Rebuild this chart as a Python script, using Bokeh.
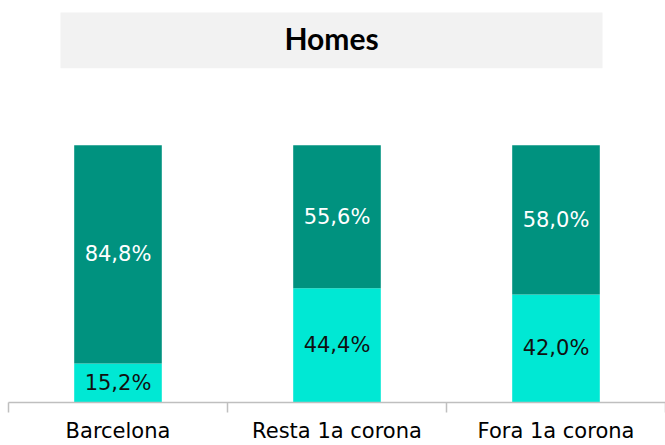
from bokeh.plotting import figure
from bokeh.models import Range1d, FixedTicker, ColumnDataSource, BoxAnnotation, Label
from bokeh.embed import file_html
from bokeh.resources import INLINE
from bokeh.core.properties import value

# ---- data ----
categories = ["Barcelona", "Resta 1a corona", "Fora 1a corona"]
share_light = [15.2, 44.4, 42.0]   # lower segment (light cyan)
share_dark = [84.8, 55.6, 58.0]    # upper segment (dark teal)
chart_title = "Homes"

# ---- derived ----
n = len(categories)
xs = [i + 0.5 for i in range(n)]
dark_bottom = share_light
dark_top = [a + b for a, b in zip(share_light, share_dark)]

def fmt(v):
    return f"{v:.1f}".replace(".", ",") + "%"

src = ColumnDataSource(dict(
    x=xs,
    light_top=share_light,
    dark_bottom=dark_bottom,
    dark_top=dark_top,
    light_mid=[v / 2 for v in share_light],
    dark_mid=[(b + t) / 2 for b, t in zip(dark_bottom, dark_top)],
    light_lab=[fmt(v) for v in share_light],
    dark_lab=[fmt(v) for v in share_dark],
))

DARK = "#00927F"
LIGHT = "#00E8D4"

p = figure(width=665, height=445, output_backend="svg", toolbar_location=None,
           x_range=Range1d(0, n), y_range=Range1d(0, 156.2),
           y_axis_type=None, min_border=0, min_border_left=8, min_border_bottom=42)
p.outline_line_color = None
p.grid.visible = False
p.background_fill_color = "white"
p.border_fill_color = "white"

p.vbar(x="x", bottom=0, top="light_top", width=0.4, source=src,
       fill_color=LIGHT, line_color=None)
p.vbar(x="x", bottom="dark_bottom", top="dark_top", width=0.4, source=src,
       fill_color=DARK, line_color=None)

p.text(x="x", y="light_mid", text="light_lab", source=src,
       text_align="center", text_baseline="middle",
       text_font=value("DejaVu Sans"), text_font_size="21px", text_color="#111111")
p.text(x="x", y="dark_mid", text="dark_lab", source=src,
       text_align="center", text_baseline="middle",
       text_font=value("DejaVu Sans"), text_font_size="21px", text_color="white")

# title box
p.add_layout(BoxAnnotation(left=52 / 219, right=594 / 219, bottom=129.84, top=151.55,
                           fill_color="#F2F2F2", fill_alpha=1.0, line_color=None,
                           level="underlay"))
p.add_layout(Label(x=1.475, y=141.8, text=chart_title, text_align="center",
                   text_baseline="alphabetic", text_font="Lato",
                   text_font_style="bold", text_font_size="30px", text_color="black"))

# axis
ax = p.xaxis[0]
ax.ticker = FixedTicker(ticks=xs, minor_ticks=list(range(n + 1)))
ax.major_label_overrides = {x: c for x, c in zip(xs, categories)}
ax.axis_line_color = "#BFBFBF"
ax.axis_line_width = 1.5
ax.major_tick_line_color = None
ax.major_tick_out = 0
ax.major_tick_in = 0
ax.minor_tick_line_color = "#BFBFBF"
ax.minor_tick_line_width = 1.5
ax.minor_tick_out = 10
ax.minor_tick_in = 0
ax.major_label_standoff = 6
ax.major_label_text_font = "DejaVu Sans"
ax.major_label_text_font_size = "21px"
ax.major_label_text_color = "black"

open("out.html", "w").write(file_html(p, INLINE))
